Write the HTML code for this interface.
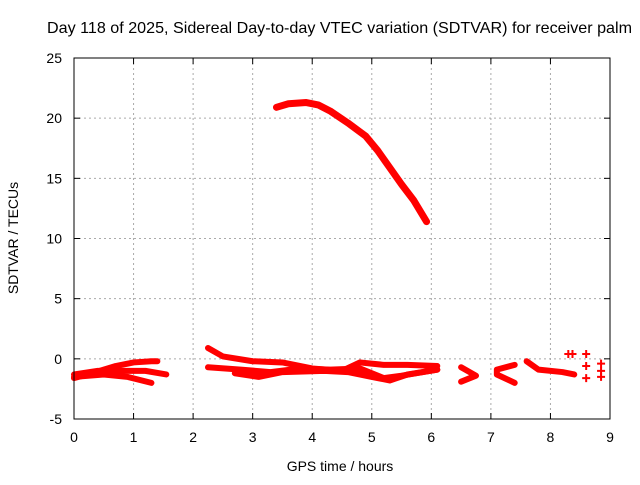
<!DOCTYPE html>
<html><head><meta charset="utf-8"><style>
body{margin:0;background:#fff}
svg text{font-family:"Liberation Sans",sans-serif;font-size:14px;fill:#000}
</style></head><body>
<svg id="chart" width="640" height="480" xmlns="http://www.w3.org/2000/svg">
<rect width="640" height="480" fill="#fff"/>
<text x="47" y="33" textLength="585" lengthAdjust="spacingAndGlyphs" style="font-size:16px">Day 118 of 2025, Sidereal Day-to-day VTEC variation (SDTVAR) for receiver palm</text>
<g id="grid"></g>
<g id="series"></g>
<rect x="74" y="58" width="536" height="361" fill="none" stroke="#000" stroke-width="1"/>
<g id="ticks"></g>
<text x="340" y="471" text-anchor="middle">GPS time / hours</text>
<text transform="translate(18,238) rotate(-90)" text-anchor="middle">SDTVAR / TECUs</text>
</svg>
<script>
const xTicks=[0,1,2,3,4,5,6,7,8,9];
const yTicks=[-5,0,5,10,15,20,25];
const mainTrack=[[3.4,20.9],[3.6,21.2],[3.9,21.3],[4.1,21.1],[4.3,20.6],[4.6,19.6],[4.9,18.5],[5.1,17.3],[5.3,15.9],[5.5,14.5],[5.7,13.2],[5.92,11.4]];
const trackA=[[0,-1.6],[0.3,-1.2],[0.7,-0.6],[1.0,-0.3],[1.3,-0.2],[1.4,-0.2]];
const trackB=[[0,-1.3],[0.4,-1.0],[0.8,-1.0],[1.2,-1.0],[1.55,-1.3]];
const trackC=[[0,-1.5],[0.5,-1.3],[0.9,-1.5],[1.3,-2.0]];
const trackD=[[2.25,0.9],[2.5,0.2],[3.0,-0.2],[3.5,-0.3],[4.0,-0.8],[4.5,-1.0],[4.8,-0.3],[5.2,-0.5],[5.6,-0.5],[6.1,-0.6]];
const trackE=[[2.25,-0.7],[2.8,-0.9],[3.3,-1.1],[3.8,-0.8],[4.3,-0.9],[4.8,-0.8],[5.2,-1.6],[5.5,-1.4],[6.1,-0.9]];
const trackF=[[2.7,-1.2],[3.1,-1.5],[3.5,-1.1],[4.2,-1.0],[4.6,-1.1],[5.0,-1.5],[5.3,-1.8],[5.6,-1.3],[6.1,-0.9]];
const trackG=[[6.5,-0.7],[6.75,-1.4],[6.5,-1.9]];
const trackH=[[7.4,-0.5],[7.1,-0.9],[7.1,-1.3],[7.4,-2.0]];
const trackI=[[7.6,-0.2],[7.8,-0.9],[8.2,-1.1],[8.4,-1.3]];
const points=[[8.3,0.4],[8.37,0.4],[8.6,0.4],[8.6,-0.6],[8.6,-1.6],[8.85,-0.4],[8.85,-1.0],[8.85,-1.5]];
const tracks=[mainTrack,trackA,trackB,trackC,trackD,trackE,trackF,trackG,trackH,trackI];
const X0=74,X1=610,Y0=419,Y1=58;
function sx(v){return X0+(v-0)/(9-0)*(X1-X0);}
function sy(v){return Y0-(v+5)/30*(Y0-Y1);}
const NS="http://www.w3.org/2000/svg";
const grid=document.getElementById('grid'),ticks=document.getElementById('ticks'),ser=document.getElementById('series');
function mk(tag,attrs,parent){const e=document.createElementNS(NS,tag);for(const k in attrs)e.setAttribute(k,attrs[k]);parent.appendChild(e);return e;}
xTicks.forEach(t=>{
 const x=sx(t);
 if(t>0&&t<9){const g=mk('line',{x1:x,x2:x,y1:Y1,y2:Y0,stroke:'#aaa','stroke-dasharray':'2,3'},grid);
 
 }
 const l=mk('text',{x:x,y:Y0+23,'text-anchor':'middle'},ticks);l.textContent=t;
 
 
 mk('line',{x1:x,x2:x,y1:Y0,y2:Y0-6,stroke:'#000'},ticks);
 mk('line',{x1:x,x2:x,y1:Y1,y2:Y1+6,stroke:'#000'},ticks);
});
yTicks.forEach(t=>{
 const y=sy(t);
 if(t>-5&&t<25){const g=mk('line',{x1:X0,x2:X1,y1:y,y2:y,stroke:'#aaa','stroke-dasharray':'2,3'},grid);
 
 }
 const l=mk('text',{x:X0-12,y:y+5,'text-anchor':'end'},ticks);l.textContent=t;
 
 
 mk('line',{x1:X0,x2:X0+6,y1:y,y2:y,stroke:'#000'},ticks);
 mk('line',{x1:X1,x2:X1-6,y1:y,y2:y,stroke:'#000'},ticks);
});
tracks.forEach((tr,i)=>{
 const p=mk('polyline',{points:tr.map(d=>sx(d[0])+','+sy(d[1])).join(' '),fill:'none',stroke:'#f00','stroke-width':i===0?7:6,'stroke-linejoin':'round','stroke-linecap':'round'},ser);
 
 
});
points.forEach(d=>{
 const x=sx(d[0]),y=sy(d[1]);
 const p=mk('path',{d:`M${x-4},${y}H${x+4}M${x},${y-4}V${y+4}`,stroke:'#f00','stroke-width':2},ser);
 
 
});
</script>
</body></html>
